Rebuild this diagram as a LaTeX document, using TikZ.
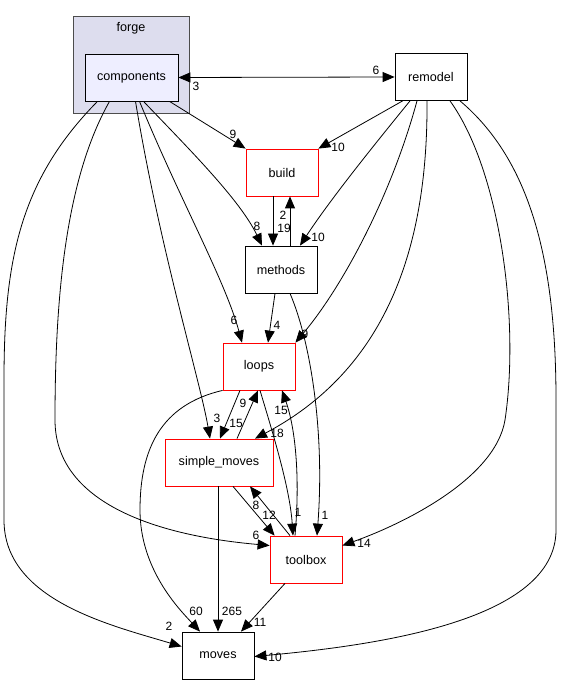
\documentclass[tikz,border=0pt]{standalone}
\usepackage{fontspec}
\setmainfont{Liberation Sans}
\usetikzlibrary{arrows.meta,calc}
\definecolor{clusterfill}{HTML}{DDDDEE}
\definecolor{compfill}{HTML}{EEEEFF}
\begin{document}
\begin{tikzpicture}[x=1pt,y=-1pt,
  box/.style={draw=black,line width=0.8pt,fill=white,minimum width=72pt,minimum height=47pt,inner sep=0pt,font=\fontsize{12.6}{15}\selectfont},
  redbox/.style={box,draw=red},
  lbl/.style={inner sep=0pt,font=\fontsize{12}{14}\selectfont},
  dep/.style={line width=0.8pt,-{Triangle[length=12pt,width=10pt]}},
  bidep/.style={line width=0.8pt,{Triangle[length=12pt,width=10pt]}-{Triangle[length=12pt,width=10pt]}}]
\path[use as bounding box] (0,0) rectangle (563,684);
% cluster
\node[draw=black!70,line width=0.8pt,fill=clusterfill,minimum width=116pt,minimum height=97pt,inner sep=0pt] (forge) at (131,64.5) {};
\node[font=\fontsize{12.6}{15}\selectfont,anchor=base] (forgelbl) at (131,32) {forge};
\node[box,fill=compfill,minimum width=93pt] (components) at (131.5,77.5) {components};
\node[box] (remodel) at (431,77) {remodel};
\node[redbox] (build) at (282,172.5) {build};
\node[box] (methods) at (281,269.5) {methods};
\node[redbox] (loops) at (259,366.5) {loops};
\node[redbox,minimum width=108pt] (simple) at (219,462.5) {simple\_moves};
\node[redbox] (toolbox) at (306,559.5) {toolbox};
\node[box] (moves) at (218,655.5) {moves};

% edges
\draw[bidep] (components.east) -- (remodel.west);
\node[lbl] (l1) at (196,86) {3};
\node[lbl] (l2) at (376,70) {6};

\draw[dep] ($(components.south)+(38,0)$) -- ($(build.north west)+(0,0)$);
\node[lbl] (l3) at (233,134) {9};
\draw[dep] ($(remodel.south west)+(8,0)$) -- (build.north east);
\node[lbl] (l4) at (338,147) {10};

\draw[dep] ($(components.south)+(12,0)$) .. controls (190,150) and (240,200) .. ($(methods.north)+(-19,0)$);
\node[lbl] (l5) at (257,226) {8};
\draw[dep] ($(build.south)+(-9,0)$) -- ($(methods.north)+(-8,0)$);
\node[lbl] (l6) at (284,228) {19};
\draw[dep] ($(methods.north)+(9,0)$) -- ($(build.south)+(8,0)$);
\node[lbl] (l7) at (283,215) {2};
\draw[dep] ($(remodel.south)+(-21,0)$) .. controls (370,150) and (330,200) .. ($(methods.north)+(19,0)$);
\node[lbl] (l8) at (318,237) {10};

\draw[dep] ($(components.south)+(8,0)$) .. controls (180,200) and (225,280) .. ($(loops.north)+(-17,0)$);
\node[lbl] (l9) at (234,320) {6};
\draw[dep] ($(methods.south)+(-6,0)$) -- ($(loops.north)+(9,0)$);
\node[lbl] (l10) at (277,325) {4};
\draw[dep] ($(remodel.south)+(-14,0)$) .. controls (390,200) and (340,290) .. (loops.north east);
\node[lbl] (l11) at (305,334) {9};

\draw[dep] ($(methods.south)+(9,0)$) .. controls (310,340) and (325,430) .. ($(toolbox.north)+(11,0)$);
\node[lbl] (l12) at (325,515) {1};

\draw[dep] ($(components.south)+(4,0)$) .. controls (160,250) and (200,380) .. ($(simple.north)+(-9,0)$);
\node[lbl] (l13) at (217,418) {3};
\draw[dep] ($(loops.south)+(-19,0)$) -- ($(simple.north)+(1,0)$);
\node[lbl] (l14) at (236,423) {15};
\draw[dep] ($(simple.north)+(18,0)$) -- ($(loops.south)+(-1,0)$);
\node[lbl] (l15) at (243,403) {9};
\draw[dep] ($(remodel.south)+(-4,0)$) .. controls (428,250) and (385,370) .. ($(simple.north)+(36,0)$);
\node[lbl] (l16) at (277,433) {18};

\draw[dep] ($(loops.south)+(1,0)$) .. controls (275,440) and (290,490) .. ($(toolbox.north)+(-13,0)$);
\node[lbl] (l17) at (298,512) {1};
\draw[dep] ($(toolbox.north)+(-11,0)$) .. controls (300,480) and (296,430) .. ($(loops.south)+(23,0)$);
\node[lbl] (l18) at (281,410) {15};
\draw[dep] ($(simple.south)+(14,0)$) -- ($(toolbox.north west)+(5,0)$);
\node[lbl] (l19) at (269,515) {12};
\draw[dep] ($(toolbox.north)+(-16,0)$) -- ($(simple.south)+(31,0)$);
\node[lbl] (l20) at (256,505) {8};

\draw[dep] ($(components.south)+(-22,0)$) .. controls (65,180) and (55,300) .. (55,420) .. controls (55,500) and (150,535) .. ($(toolbox.west)+(0,-14)$);
\node[lbl] (l21) at (256,535) {6};
\draw[dep] ($(remodel.south)+(19,0)$) .. controls (500,170) and (520,320) .. (505,420) .. controls (495,480) and (400,525) .. ($(toolbox.east)+(0,-14)$);
\node[lbl] (l22) at (364,543) {14};

\draw[dep] ($(components.south)+(-34,0)$) .. controls (20,180) and (4,260) .. (4,380) -- (4,520) .. controls (4,600) and (110,625) .. ($(moves.west)+(0,-9)$);
\node[lbl] (l23) at (169,626) {2};
\draw[dep] (loops.south west) .. controls (160,405) and (140,450) .. (140,510) .. controls (140,570) and (180,610) .. ($(moves.north)+(-18,0)$);
\node[lbl] (l24) at (196,611) {60};
\draw[dep] ($(simple.south)+(-1,0)$) -- ($(moves.north)+(0,0)$);
\node[lbl] (l25) at (232,611) {265};
\draw[dep] ($(toolbox.south)+(-21,0)$) -- ($(moves.north)+(23,0)$);
\node[lbl] (l26) at (260,622) {11};
\draw[dep] ($(remodel.south)+(29,0)$) .. controls (530,160) and (556,260) .. (556,400) -- (556,530) .. controls (556,620) and (380,645) .. ($(moves.east)+(0,1)$);
\node[lbl] (l27) at (275,657) {10};
\end{tikzpicture}
\end{document}
